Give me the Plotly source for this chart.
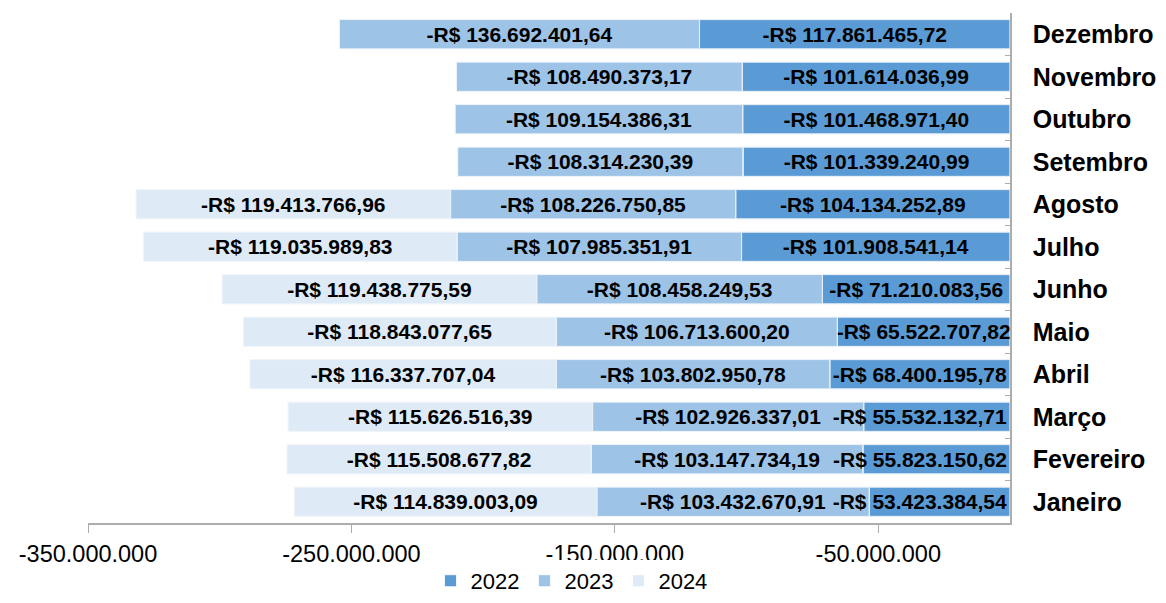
import plotly.graph_objects as go

meses = ['Janeiro', 'Fevereiro', 'Março', 'Abril', 'Maio', 'Junho',
         'Julho', 'Agosto', 'Setembro', 'Outubro', 'Novembro', 'Dezembro']

v2022 = [-53423384.54, -55823150.62, -55532132.71, -68400195.78, -65522707.82, -71210083.56,
         -101908541.14, -104134252.89, -101339240.99, -101468971.40, -101614036.99, -117861465.72]
v2023 = [-103432670.91, -103147734.19, -102926337.01, -103802950.78, -106713600.20, -108458249.53,
         -107985351.91, -108226750.85, -108314230.39, -109154386.31, -108490373.17, -136692401.64]
v2024 = [-114839003.09, -115508677.82, -115626516.39, -116337707.04, -118843077.65, -119438775.59,
         -119035989.83, -119413766.96, None, None, None, None]

x_ticks = [-350000000, -250000000, -150000000, -50000000]
x_ticktext = ['-350.000.000', '-250.000.000', '-150.000.000', '-50.000.000']

# meses em que o rótulo de 2022 não cabe na barra (fica encostado no zero)
rotulo_na_base = ['Janeiro', 'Fevereiro', 'Março']

CORES = {'2022': '#5B9BD5', '2023': '#9DC3E6', '2024': '#DEEBF7'}
FONTE = 'Liberation Sans, Arial, sans-serif'
FONTE_ROTULO = dict(family=FONTE, size=21, color='black', weight='bold')


def brl(v):
    if v is None:
        return ''
    s = f"{abs(v):,.2f}".replace(',', 'X').replace('.', ',').replace('X', '.')
    return '-R$ ' + s


series = [('2022', v2022), ('2023', v2023), ('2024', v2024)]

fig = go.Figure()

# barras
for ano, vals in series:
    fig.add_trace(go.Bar(
        y=meses, x=vals, name=ano, orientation='h',
        marker=dict(color=CORES[ano], line=dict(color='white', width=0.8)),
        hoverinfo='skip'
    ))

# rótulos por cima de todas as barras (eixo sobreposto)
for ano, vals in series:
    txt = [brl(v) if not (ano == '2022' and m in rotulo_na_base) else ''
           for m, v in zip(meses, vals)]
    fig.add_trace(go.Bar(
        y=meses, x=vals, orientation='h', yaxis='y2', showlegend=False,
        marker=dict(color='rgba(0,0,0,0)'),
        text=txt, textposition='inside', insidetextanchor='middle', textangle=0,
        constraintext='none', cliponaxis=False, textfont=FONTE_ROTULO,
        hoverinfo='skip'
    ))

fig.add_trace(go.Bar(
    y=meses, x=v2022, orientation='h', yaxis='y3', showlegend=False,
    marker=dict(color='rgba(0,0,0,0)'),
    text=[brl(v) if m in rotulo_na_base else '' for m, v in zip(meses, v2022)],
    textposition='inside', insidetextanchor='start', textangle=0,
    constraintext='none', cliponaxis=False, textfont=FONTE_ROTULO,
    hoverinfo='skip'
))

# a página tem margem de 8px no body: figura 1150x587 ocupa a janela toda
fig.update_layout(
    barmode='relative', bargap=0.31,
    width=1150, height=587,
    margin=dict(l=80, r=148, t=5, b=72),
    paper_bgcolor='white', plot_bgcolor='white',
    font=dict(family=FONTE, color='black'),
    legend=dict(orientation='h', xref='container', x=0.49, xanchor='center',
                yref='container', y=0.024, yanchor='middle',
                font=dict(size=22), traceorder='normal', itemwidth=30),
    yaxis2=dict(overlaying='y', visible=False, categoryorder='array', categoryarray=meses),
    yaxis3=dict(overlaying='y', visible=False, categoryorder='array', categoryarray=meses),
)
fig.update_xaxes(
    range=[-350000000, 0], tickvals=x_ticks, ticktext=x_ticktext, automargin=False,
    showgrid=False, zeroline=False, showline=True, linecolor='#ADADAD', linewidth=1.5,
    ticks='outside', ticklen=8, tickcolor='#ADADAD', tickfont=dict(size=23.5),
    ticklabelstandoff=1
)
fig.update_yaxes(
    selector=dict(overlaying=None),
    side='right', categoryorder='array', categoryarray=meses, automargin=False,
    showgrid=False, zeroline=False, showline=True, linecolor='#ADADAD', linewidth=1.5,
    ticks='inside', tickson='boundaries', ticklen=5, tickcolor='#ADADAD',
    tickfont=dict(size=25, weight='bold'), ticklabelstandoff=16
)

fig.write_html("out.html")
